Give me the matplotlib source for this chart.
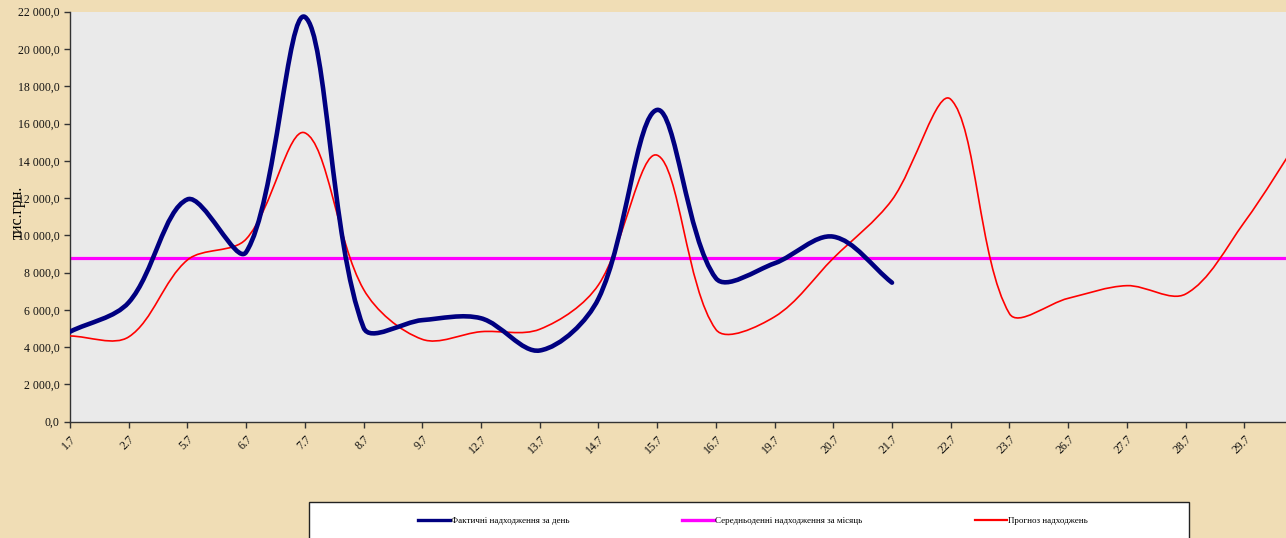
import numpy as np
import matplotlib.pyplot as plt
from matplotlib.path import Path
from matplotlib.patches import PathPatch, Rectangle
from matplotlib.lines import Line2D
from matplotlib.ticker import FuncFormatter

days = ['1.7', '2.7', '5.7', '6.7', '7.7', '8.7', '9.7', '12.7', '13.7', '14.7',
        '15.7', '16.7', '19.7', '20.7', '21.7', '22.7', '23.7', '26.7', '27.7',
        '28.7', '29.7', '30.7']

# тис.грн.
actual = [4830, 6400, 11930, 9100, 21720, 5050, 5450, 5550, 3820, 6600,
          16730, 7700, 8500, 9930, 7460]
forecast = [4600, 4550, 8680, 9800, 15500, 7100, 4420, 4830, 4960, 7340,
            14300, 4950, 5630, 8770, 11900, 17300, 5800, 6620, 7300,
            6850, 10700, 15500]
mean_level = 8770

lbl_actual = 'Фактичні надходження за день'
lbl_mean = 'Середньоденні надходження за місяць'
lbl_fc = 'Прогноз надходжень'


def smooth_path(ax, ys):
    # bezier through the points, control arms scaled by chord length on screen
    # (close to what excel does for a "smoothed line")
    pts = np.column_stack([np.arange(len(ys)), ys]).astype(float)
    scr = ax.transData.transform(pts)
    n = len(pts)
    verts = [pts[0]]
    codes = [Path.MOVETO]
    for i in range(n - 1):
        i0, i1, i2, i3 = max(i - 1, 0), i, i + 1, min(i + 2, n - 1)
        d01 = np.hypot(*(scr[i1] - scr[i0]))
        d12 = np.hypot(*(scr[i2] - scr[i1]))
        d23 = np.hypot(*(scr[i3] - scr[i2]))
        f1 = d12 / (d01 + d12) if d01 + d12 > 0 else 0.5
        f2 = d12 / (d12 + d23) if d12 + d23 > 0 else 0.5
        c1 = pts[i1] + (pts[i2] - pts[i0]) * f1 / 3.0
        c2 = pts[i2] - (pts[i3] - pts[i1]) * f2 / 3.0
        verts += [c1, c2, pts[i2]]
        codes += [Path.CURVE4] * 3
    return Path(verts, codes)


plt.rcParams['font.family'] = ['Liberation Serif', 'DejaVu Serif']

W, H = 1286, 538
fig = plt.figure(figsize=(W / 100, H / 100), dpi=100)
fig.patch.set_facecolor('#F0DDB5')
ax = fig.add_axes([70 / W, 1 - 421.7 / H, (1303 - 70) / W, 410 / H])
ax.set_facecolor('#EAEAEA')
ax.set_xlim(0, len(days) - 1)
ax.set_ylim(0, 22000)

ax.axhline(mean_level, color='#FF00FF', lw=2.3, zorder=2)
ax.add_patch(PathPatch(smooth_path(ax, forecast), fill=False, edgecolor='#FF0000',
                       lw=1.2, zorder=3))
ax.add_patch(PathPatch(smooth_path(ax, actual), fill=False, edgecolor='#000080',
                       lw=3.3, capstyle='round', joinstyle='round', zorder=4))

ax.set_yticks(np.arange(0, 22001, 2000))
ax.yaxis.set_major_formatter(FuncFormatter(
    lambda v, p: '{:,.1f}'.format(v).replace(',', ' ').replace('.', ',')))
ax.set_xticks(range(len(days)))
ax.set_xticklabels(days, rotation=45, ha='right', rotation_mode='anchor')

for s in ['top', 'right']:
    ax.spines[s].set_visible(False)
for s in ['left', 'bottom']:
    ax.spines[s].set_color('#333333')
    ax.spines[s].set_linewidth(1.0)
ax.tick_params(axis='both', direction='out', length=4, width=1,
               color='#333333', labelsize=8.5, labelcolor='#111111')
ax.tick_params(axis='x', pad=4)
ax.set_ylabel('тис.грн.', fontsize=11.5)
ax.yaxis.set_label_coords(-0.036, 0.51)

# legend box (runs past the bottom edge, like the original)
fig.patches.append(Rectangle((309 / W, 1 - 545 / H), 880 / W, 43 / H,
                             transform=fig.transFigure, facecolor='white',
                             edgecolor='#222222', lw=1.0, zorder=1))
handles = [Line2D([], [], color='#000080', lw=2.4),
           Line2D([], [], color='#FF00FF', lw=2.4),
           Line2D([], [], color='#FF0000', lw=1.6)]
leg = fig.legend(handles, [lbl_actual, lbl_mean, lbl_fc], ncol=3,
                 loc='center left', bbox_to_anchor=(418 / W, 1 - 521 / H),
                 fontsize=6.5, frameon=False, borderpad=0, borderaxespad=0,
                 handlelength=3.5, handletextpad=0.15, columnspacing=12.5)
leg.set_zorder(2)

fig.savefig('out.png', dpi=100, facecolor=fig.get_facecolor())
